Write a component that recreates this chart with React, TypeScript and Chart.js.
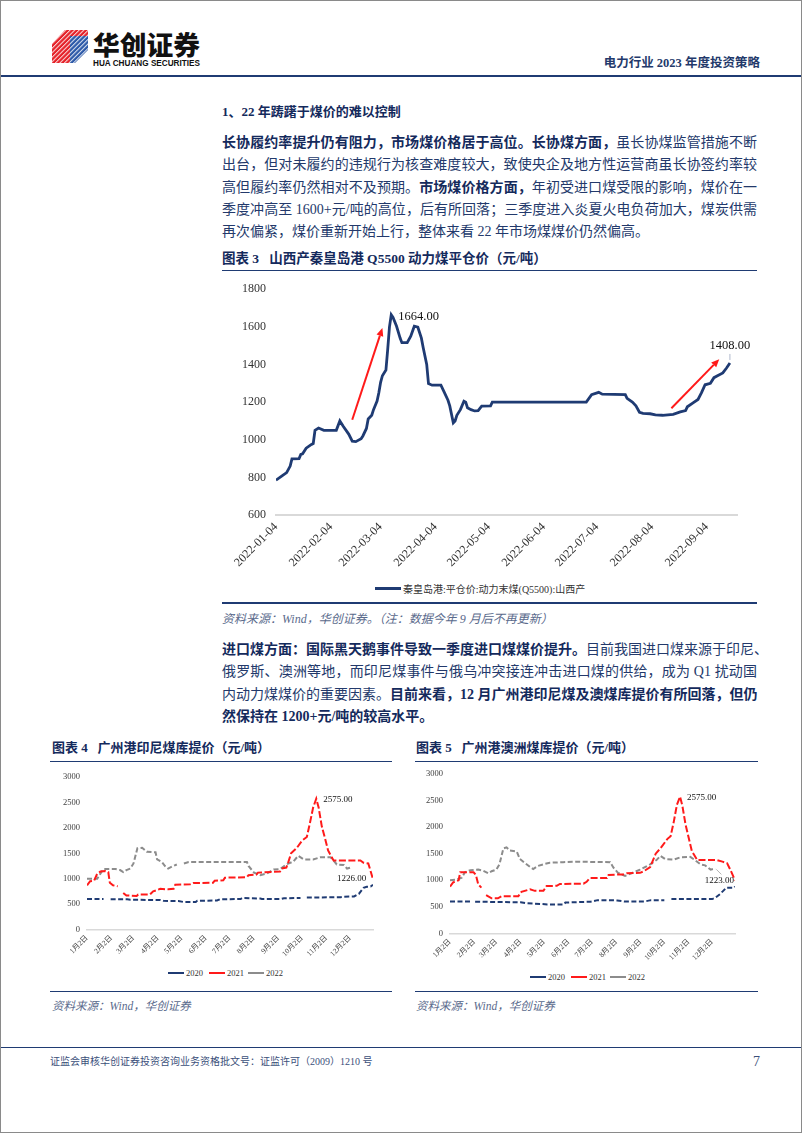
import React, { useEffect, useRef } from "react";
import { Chart, registerables } from "chart.js";
Chart.register(...registerables);

// ---------------- Figure 3: Qinhuangdao Q5500 (Shanxi) ----------------
const qhdDates = [
  "2022-01-04","2022-01-07","2022-01-10","2022-01-12","2022-01-13","2022-01-17","2022-01-18","2022-01-19",
  "2022-01-21","2022-01-24","2022-01-25","2022-01-26","2022-01-28","2022-01-31","2022-02-07","2022-02-09",
  "2022-02-11","2022-02-14","2022-02-16","2022-02-18","2022-02-21","2022-02-22","2022-02-24","2022-02-25",
  "2022-02-27","2022-02-28","2022-03-02","2022-03-03","2022-03-04","2022-03-05","2022-03-07","2022-03-08",
  "2022-03-09","2022-03-10","2022-03-11","2022-03-13","2022-03-15","2022-03-16","2022-03-19","2022-03-21",
  "2022-03-23","2022-03-25","2022-03-27","2022-03-28","2022-03-30","2022-03-31","2022-04-02","2022-04-07",
  "2022-04-09","2022-04-11","2022-04-12","2022-04-14","2022-04-15","2022-04-16","2022-04-18","2022-04-20",
  "2022-04-21","2022-04-22","2022-04-24","2022-04-26","2022-04-28","2022-04-30","2022-05-05","2022-05-06",
  "2022-06-28","2022-07-01","2022-07-05","2022-07-07","2022-07-20","2022-07-21","2022-07-24","2022-07-26",
  "2022-07-28","2022-07-30","2022-08-03","2022-08-06","2022-08-10","2022-08-16","2022-08-20","2022-08-23",
  "2022-08-24","2022-08-27","2022-08-30","2022-09-01","2022-09-03","2022-09-06","2022-09-08","2022-09-10",
  "2022-09-13","2022-09-15","2022-09-17",
];
const qhdPrices = [
  785, 805, 825, 860, 898, 900, 922, 925,
  955, 975, 980, 1050, 1062, 1050, 1050, 1100,
  1070, 1030, 992, 990, 1005, 1020, 1060, 1110,
  1130, 1160, 1205, 1250, 1305, 1340, 1370, 1480,
  1600, 1664, 1650, 1603, 1540, 1516, 1516, 1550,
  1603, 1598, 1540, 1490, 1400, 1298, 1290, 1290,
  1250, 1210, 1180, 1090, 1100, 1130, 1160, 1205,
  1200, 1170, 1160, 1153, 1155, 1179, 1180, 1200,
  1200, 1240, 1252, 1242, 1240, 1220, 1200, 1180,
  1146, 1140, 1138, 1132, 1130, 1135, 1148, 1155,
  1175, 1195, 1214, 1250, 1292, 1300, 1330, 1340,
  1355, 1380, 1408,
];
const qhdTickDates = [
  "2022-01-04","2022-02-04","2022-03-04","2022-04-04","2022-05-04",
  "2022-06-04","2022-07-04","2022-08-04","2022-09-04",
];
const qhdAxisStart = "2022-01-04";
const qhdAxisEnd = "2022-09-21";
const qhdYMin = 600;
const qhdYMax = 1800;
const qhdYStep = 200;
const qhdLegend = "秦皇岛港:平仓价:动力末煤(Q5500):山西产";
// red trend arrows: [fromDate, fromValue, toDate, toValue]
const qhdArrows: [string, number, string, number][] = [
  ["2022-02-16", 1106, "2022-03-05", 1594],
  ["2022-08-15", 1167, "2022-09-11", 1428],
];
const qhdPeakDate = "2022-03-10";
const qhdPeakValue = 1664;
const qhdLastDate = "2022-09-17";
const qhdLastValue = 1408;

// ---------------- Figure 4: Guangzhou port Indonesian coal ----------------
const portTickDates = ["01-02","02-02","03-02","04-02","05-02","06-02","07-02","08-02","09-02","10-02","11-02","12-02"];
const portTickLabels = ["1月2日","2月2日","3月2日","4月2日","5月2日","6月2日","7月2日","8月2日","9月2日","10月2日","11月2日","12月2日"];
const portAxisStart = "01-02";
const portAxisEnd = "12-31";
const portYMin = 0;
const portYMax = 3000;
const portYStep = 500;
const seriesNames = ["2020", "2021", "2022"];

const idn2020Dates = ["01-02","01-23","01-27","02-01","02-22","02-26","04-05","04-09","04-28","05-05","05-20","05-22","06-16","06-20","07-16","07-18","08-10","08-12","09-05","09-09","09-30","10-04","10-08","11-20","11-24","12-07","12-13","12-16","12-19","12-23","12-28","12-31"];
const idn2020 = [600,598,null,595,595,585,580,565,560,540,540,565,570,595,600,620,610,600,600,615,620,null,630,635,645,650,700,760,820,840,845,880];
const idn2021Dates = ["01-02","01-06","01-11","01-15","01-19","01-25","01-29","01-31","02-04","02-10","02-14","02-17","02-21","03-06","03-08","03-23","03-27","04-05","04-15","04-22","04-24","05-13","05-17","06-11","06-13","06-24","06-26","07-24","07-26","08-05","08-07","09-04","09-06","09-12","09-14","09-18","09-25","10-02","10-08","10-12","10-16","10-20","10-23","10-27","10-31","11-04","11-09","11-11","12-15","12-19","12-25","12-27","12-31"];
const idn2021 = [870,950,960,1100,1140,1150,1130,920,870,850,null,720,670,660,690,690,750,800,790,800,880,890,915,920,960,970,1020,1030,1070,1080,1120,1140,1200,1220,1300,1500,1600,1750,1820,2100,2400,2575,2400,2030,1800,1555,1410,1360,1360,1315,1300,1200,990];
const idn2022Dates = ["01-02","01-15","01-19","01-23","02-07","02-13","02-17","02-21","02-26","03-02","03-07","03-13","03-19","03-30","04-01","04-07","04-11","04-15","04-20","04-26","05-01","05-05","05-11","07-24","07-26","08-02","08-10","08-18","08-27","09-04","09-12","09-21","09-27","10-04","10-16","10-25","11-07","11-11","11-15","11-24","11-28","12-04"];
const idn2022 = [1000,1000,1100,1190,1190,1170,1130,1170,1200,1300,1600,1610,1530,1520,1380,1330,1250,1200,1240,1280,null,1300,1330,1330,1250,1120,1070,1100,1180,1190,1280,1340,1450,1380,1380,1420,1420,1360,1280,1270,1200,1226];
const idnPeak: [string, number] = ["10-20", 2575];
const idnLast: [string, number] = ["12-04", 1226];

// ---------------- Figure 5: Guangzhou port Australian coal ----------------
const aus2020Dates = ["01-02","01-30","01-31","02-03","04-02","04-08","05-06","05-27","05-29","06-30","07-09","08-03","08-12","09-07","09-15","10-02","10-05","10-11","12-02","12-06","12-12","12-16","12-20","12-30","12-31"];
const aus2020 = [600,598,null,595,585,570,545,545,580,595,625,620,600,600,625,625,null,645,645,670,740,800,860,860,880];
const aus2021Dates = ["01-02","01-06","01-13","01-15","02-01","02-04","02-07","02-11","02-14","02-17","02-24","03-04","03-09","03-30","04-03","04-14","04-20","05-01","05-05","05-18","05-22","06-21","06-25","06-29","07-21","07-23","08-11","08-15","09-01","09-06","09-14","09-21","09-27","10-06","10-10","10-14","10-18","10-22","10-25","10-29","11-02","11-06","11-13","12-08","12-15","12-21","12-25","12-31"];
const aus2021 = [880,960,1000,1150,1150,1100,920,860,null,720,660,660,700,700,780,830,800,800,890,895,930,935,970,1040,1040,1100,1110,1130,1140,1170,1250,1500,1600,1780,1830,2100,2420,2575,2400,2050,1800,1550,1380,1380,1350,1320,1200,1000];
const aus2022Dates = ["01-02","01-10","01-17","01-21","01-28","02-07","02-13","02-20","02-24","03-02","03-06","03-11","03-15","03-19","03-28","04-01","04-07","04-14","04-18","04-24","05-01","05-09","05-26","06-12","07-25","07-29","08-04","08-13","08-21","09-01","09-14","09-22","09-27","10-03","10-14","10-22","11-04","11-10","11-17","11-23","11-30","12-06"];
const aus2022 = [1000,1010,1050,1150,1190,1200,1180,1130,1170,1200,1300,1600,1620,1560,1540,1400,1330,1250,1210,1270,1300,1330,1340,1350,1340,1240,1140,1080,1130,1200,1300,1380,1460,1400,1390,1430,1440,1380,1300,1280,1200,1223];
const ausPeak: [string, number] = ["10-22", 2575];
const ausLast: [string, number] = ["12-06", 1223];

// ---------------- styling ----------------
const NAVY = "#1f3b73";
const TEXT = "#23396b";
const BOLD = "#142a5c";
const RED = "#ff1a1a";
const GRAY = "#8c8c8c";
const SERIF = '"Liberation Serif", "Times New Roman", "Noto Sans CJK SC", serif';
const CJK = '"Liberation Serif", "Noto Sans CJK SC", serif';

function utc(s: string) {
  const [y, m, d] = s.split("-").map(Number);
  return Date.UTC(y, m - 1, d);
}
function dayIdx(date: string, base: string) {
  return Math.round((utc(date) - utc(base)) / 86400000);
}
function portDay(md: string) {
  return dayIdx("2021-" + md, "2021-" + portAxisStart);
}

function drawArrow(ctx: CanvasRenderingContext2D, x0: number, y0: number, x1: number, y1: number) {
  const head = 8;
  const ang = Math.atan2(y1 - y0, x1 - x0);
  const bx = x1 - head * Math.cos(ang);
  const by = y1 - head * Math.sin(ang);
  ctx.save();
  ctx.strokeStyle = RED;
  ctx.fillStyle = RED;
  ctx.lineWidth = 2;
  ctx.beginPath();
  ctx.moveTo(x0, y0);
  ctx.lineTo(bx, by);
  ctx.stroke();
  ctx.beginPath();
  ctx.moveTo(x1, y1);
  ctx.lineTo(bx + 3.5 * Math.sin(ang), by - 3.5 * Math.cos(ang));
  ctx.lineTo(bx - 3.5 * Math.sin(ang), by + 3.5 * Math.cos(ang));
  ctx.closePath();
  ctx.fill();
  ctx.restore();
}

function QhdChart() {
  const ref = useRef<HTMLCanvasElement>(null);
  useEffect(() => {
    const pts = qhdDates.map((d, i) => ({ x: dayIdx(d, qhdAxisStart), y: qhdPrices[i] }));
    const tickVals = qhdTickDates.map((d) => dayIdx(d, qhdAxisStart));
    const annot = {
      id: "qhdAnnot",
      afterDatasetsDraw(chart: any) {
        const { ctx, scales } = chart;
        const X = (d: string) => scales.x.getPixelForValue(dayIdx(d, qhdAxisStart));
        const Y = (v: number) => scales.y.getPixelForValue(v);
        qhdArrows.forEach(([d0, v0, d1, v1]) => drawArrow(ctx, X(d0), Y(v0), X(d1), Y(v1)));
        ctx.save();
        ctx.fillStyle = "#111";
        ctx.font = `12.5px ${SERIF}`;
        ctx.textBaseline = "middle";
        ctx.textAlign = "left";
        ctx.fillText(qhdPeakValue.toFixed(2), X(qhdPeakDate) + 7, Y(qhdPeakValue) + 2);
        const lx = X(qhdLastDate), ly = Y(qhdLastValue);
        ctx.textAlign = "center";
        ctx.fillText(qhdLastValue.toFixed(2), lx, ly - 17);
        ctx.strokeStyle = "#9aa6c0";
        ctx.lineWidth = 0.8;
        ctx.beginPath();
        ctx.moveTo(lx, ly - 9);
        ctx.lineTo(lx, ly - 3);
        ctx.stroke();
        ctx.restore();
      },
    };
    const chart = new Chart(ref.current!, {
      type: "line",
      data: {
        datasets: [{ data: pts, borderColor: NAVY, borderWidth: 2.8, pointRadius: 0, tension: 0, fill: false }],
      },
      options: {
        animation: false,
        responsive: false,
        layout: { padding: { top: 13, right: 20, left: 0, bottom: 0 } },
        plugins: { legend: { display: false }, tooltip: { enabled: false } },
        scales: {
          x: {
            type: "linear",
            min: 0,
            max: dayIdx(qhdAxisEnd, qhdAxisStart),
            afterBuildTicks: (s: any) => {
              s.ticks = tickVals.map((v) => ({ value: v }));
            },
            afterFit: (s: any) => {
              s.height = 57;
            },
            grid: { display: false, drawTicks: false },
            border: { display: true, color: "#d9d9d9", width: 2 },
            ticks: {
              autoSkip: false,
              minRotation: 45,
              maxRotation: 45,
              padding: 5,
              color: "#333",
              font: { family: SERIF, size: 12 },
              callback: (v: any) => {
                const i = tickVals.indexOf(Number(v));
                return i >= 0 ? qhdTickDates[i] : "";
              },
            },
          },
          y: {
            min: qhdYMin,
            max: qhdYMax,
            afterFit: (s: any) => {
              s.width = 54;
            },
            grid: { display: false, drawTicks: false },
            border: { display: false },
            ticks: {
              stepSize: qhdYStep,
              padding: 10,
              color: "#333",
              font: { family: SERIF, size: 12 },
              callback: (v: any) => String(v),
            },
          },
        },
      } as any,
      plugins: [annot],
    });
    return () => chart.destroy();
  }, []);
  return (
    <canvas
      ref={ref}
      width={535}
      height={300}
      style={{ position: "absolute", left: 222, top: 272, width: 535, height: 300 }}
    />
  );
}

type PortSeries = { dates: string[]; values: (number | null)[]; color: string; dash: number[] };

function PortChart(props: {
  left: number;
  top: number;
  width: number;
  height: number;
  padTop: number;
  padRight: number;
  yWidth: number;
  xHeight: number;
  series: PortSeries[];
  peak: [string, number];
  last: [string, number];
  leader: boolean;
}) {
  const ref = useRef<HTMLCanvasElement>(null);
  useEffect(() => {
    const tickVals = portTickDates.map(portDay);
    const annot = {
      id: "portAnnot",
      afterDatasetsDraw(chart: any) {
        const { ctx, scales } = chart;
        const X = (d: string) => scales.x.getPixelForValue(portDay(d));
        const Y = (v: number) => scales.y.getPixelForValue(v);
        ctx.save();
        ctx.fillStyle = "#111";
        ctx.font = `9px ${SERIF}`;
        ctx.textBaseline = "middle";
        ctx.textAlign = "left";
        ctx.fillText(props.peak[1].toFixed(2), X(props.peak[0]) + 7, Y(props.peak[1]) + 1);
        const lx = X(props.last[0]), ly = Y(props.last[1]);
        ctx.textAlign = "center";
        if (props.leader) {
          ctx.strokeStyle = "#a0a0a0";
          ctx.lineWidth = 0.8;
          ctx.beginPath();
          ctx.moveTo(lx + 1, ly + 1);
          ctx.lineTo(lx + 6, ly + 6);
          ctx.stroke();
          ctx.fillText(props.last[1].toFixed(2), lx + 4, ly + 12);
        } else {
          ctx.fillText(props.last[1].toFixed(2), lx, ly + 11);
        }
        ctx.restore();
      },
    };
    const chart = new Chart(ref.current!, {
      type: "line",
      data: {
        datasets: props.series.map((s, k) => ({
          label: seriesNames[k],
          data: s.dates.map((d, i) => ({ x: portDay(d), y: s.values[i] })),
          borderColor: s.color,
          borderWidth: 2,
          borderDash: s.dash,
          pointRadius: 0,
          tension: 0,
          fill: false,
          spanGaps: false,
        })),
      },
      options: {
        animation: false,
        responsive: false,
        layout: { padding: { top: props.padTop, right: props.padRight, left: 0, bottom: 0 } },
        plugins: { legend: { display: false }, tooltip: { enabled: false } },
        scales: {
          x: {
            type: "linear",
            min: 0,
            max: portDay(portAxisEnd),
            afterBuildTicks: (s: any) => {
              s.ticks = tickVals.map((v) => ({ value: v }));
            },
            afterFit: (s: any) => {
              s.height = props.xHeight;
            },
            grid: { display: false, drawTicks: false },
            border: { display: true, color: "#d9d9d9", width: 1.5 },
            ticks: {
              autoSkip: false,
              minRotation: 45,
              maxRotation: 45,
              padding: 4,
              color: "#404040",
              font: { family: CJK, size: 7.5 },
              callback: (v: any) => {
                const i = tickVals.indexOf(Number(v));
                return i >= 0 ? portTickLabels[i] : "";
              },
            },
          },
          y: {
            min: portYMin,
            max: portYMax,
            afterFit: (s: any) => {
              s.width = props.yWidth;
            },
            grid: { display: false, drawTicks: false },
            border: { display: false },
            ticks: {
              stepSize: portYStep,
              padding: 7,
              color: "#404040",
              font: { family: SERIF, size: 8.5 },
              callback: (v: any) => String(v),
            },
          },
        },
      } as any,
      plugins: [annot],
    });
    return () => chart.destroy();
  }, []);
  return (
    <canvas
      ref={ref}
      width={props.width}
      height={props.height}
      style={{ position: "absolute", left: props.left, top: props.top, width: props.width, height: props.height }}
    />
  );
}

function T(props: { x: number; cy: number; size: number; children: any; bold?: boolean; italic?: boolean; color?: string; w?: number; justify?: boolean; right?: boolean; family?: string }) {
  const lh = 24;
  const style: any = {
    position: "absolute",
    top: props.cy - lh / 2,
    height: lh,
    lineHeight: lh + "px",
    fontSize: props.size,
    fontWeight: props.bold ? 700 : 400,
    fontStyle: props.italic ? "italic" : "normal",
    color: props.color || TEXT,
    whiteSpace: "nowrap",
    fontFamily: props.family || CJK,
  };
  if (props.right) {
    style.right = 802 - props.x;
    style.textAlign = "right";
  } else {
    style.left = props.x;
  }
  if (props.w) style.width = props.w;
  if (props.justify) {
    style.textAlign = "justify";
    style.textAlignLast = "justify";
  }
  return (
    <div lang="zh-CN" style={style}>
      {props.children}
    </div>
  );
}

function Rule(props: { x: number; y: number; w: number; h?: number; color?: string }) {
  return (
    <div
      style={{
        position: "absolute",
        left: props.x,
        top: props.y,
        width: props.w,
        height: props.h || 1.5,
        background: props.color || NAVY,
      }}
    />
  );
}

function LegendItem(props: { x: number; cy: number; color: string; label: string; lineW: number; size: number; thick: number }) {
  return (
    <div style={{ position: "absolute", left: props.x, top: props.cy - 8, height: 16, display: "flex", alignItems: "center" }}>
      <div style={{ width: props.lineW, height: props.thick, background: props.color }} />
      <span style={{ fontFamily: CJK, fontSize: props.size, color: "#333", marginLeft: 2, whiteSpace: "nowrap" }}>{props.label}</span>
    </div>
  );
}

function Logo() {
  return (
    <svg style={{ position: "absolute", left: 0, top: 0 }} width={220} height={72}>
      <defs>
        <pattern id="stripes" patternUnits="userSpaceOnUse" width="3.2" height="3.2" patternTransform="rotate(45)">
          <rect x="0" y="0" width="1" height="3.2" fill="#ffffff" />
        </pattern>
      </defs>
      <polygon points="52,44 65,30 88,30 88,36 70,36 70,63 52,63" fill="#e52229" />
      <polygon points="70,36 88,36 88,50 75,63 70,63" fill="#2c59a8" />
      <polygon points="52,44 65,30 88,30 88,50 75,63 52,63" fill="url(#stripes)" opacity="0.85" />
      <text x="93" y="55" fontFamily='"Noto Sans CJK SC", sans-serif' fontWeight="900" fontSize="26" textLength="107" lengthAdjust="spacingAndGlyphs" fill="#111">
        华创证券
      </text>
      <text x="93" y="65.5" fontFamily='"Liberation Sans", "Roboto", sans-serif' fontWeight="700" fontSize="8.5" textLength="107" lengthAdjust="spacingAndGlyphs" fill="#111">
        HUA CHUANG SECURITIES
      </text>
    </svg>
  );
}

export default function App() {
  const P1 = [143, 165.3, 187.6, 209.9, 232.2];
  const P2 = [650, 672.3, 694.6, 716.9];
  const B = (s: string) => <b style={{ color: BOLD }}>{s}</b>;
  return (
    <div style={{ position: "absolute", left: 0, top: 0, width: 802, height: 1133, background: "#fff", overflow: "hidden" }}>
      <Logo />
      <T x={760} cy={63} size={12.5} bold right>电力行业 2023 年度投资策略</T>
      <Rule x={0} y={75} w={802} h={2.2} />

      <T x={222} cy={112} size={13} bold color={BOLD}>1、22 年踌躇于煤价的难以控制</T>

      <T x={222} cy={P1[0]} size={14} w={535} justify>
        {B("长协履约率提升仍有阻力，市场煤价格居于高位。长协煤方面，")}虽长协煤监管措施不断
      </T>
      <T x={222} cy={P1[1]} size={14} w={535} justify>
        出台，但对未履约的违规行为核查难度较大，致使央企及地方性运营商虽长协签约率较
      </T>
      <T x={222} cy={P1[2]} size={14} w={535} justify>
        高但履约率仍然相对不及预期。{B("市场煤价格方面，")}年初受进口煤受限的影响，煤价在一
      </T>
      <T x={222} cy={P1[3]} size={14} w={535} justify>
        季度冲高至 1600+元/吨的高位，后有所回落；三季度进入炎夏火电负荷加大，煤炭供需
      </T>
      <T x={222} cy={P1[4]} size={14}>
        再次偏紧，煤价重新开始上行，整体来看 22 年市场煤煤价仍然偏高。
      </T>

      <T x={222} cy={259} size={13.5} bold color={BOLD}>图表 3&nbsp;&nbsp;&nbsp;山西产秦皇岛港 Q5500 动力煤平仓价（元/吨）</T>
      <Rule x={222} y={269.5} w={535} h={1.8} />
      <QhdChart />
      <LegendItem x={375} cy={588} color={NAVY} label={qhdLegend} lineW={26} size={10} thick={3} />
      <Rule x={222} y={602} w={535} h={1.8} />
      <T x={222} cy={619} size={12} italic color="#5a6a8c">资料来源：Wind，华创证券。（注：数据今年 9 月后不再更新）</T>

      <T x={222} cy={P2[0]} size={14} w={535} justify>
        {B("进口煤方面：国际黑天鹅事件导致一季度进口煤煤价提升。")}目前我国进口煤来源于印尼、
      </T>
      <T x={222} cy={P2[1]} size={14} w={535} justify>
        俄罗斯、澳洲等地，而印尼煤事件与俄乌冲突接连冲击进口煤的供给，成为 Q1 扰动国
      </T>
      <T x={222} cy={P2[2]} size={14} w={535} justify>
        内动力煤煤价的重要因素。{B("目前来看，12 月广州港印尼煤及澳煤库提价有所回落，但仍")}
      </T>
      <T x={222} cy={P2[3]} size={14}>
        {B("然保持在 1200+元/吨的较高水平。")}
      </T>

      <T x={52} cy={748} size={13} bold color={BOLD}>图表 4&nbsp;&nbsp;&nbsp;广州港印尼煤库提价（元/吨）</T>
      <Rule x={50} y={760.5} w={342} h={1.8} />
      <PortChart
        left={40}
        top={765}
        width={350}
        height={200}
        padTop={10}
        padRight={17}
        yWidth={47}
        xHeight={35.5}
        series={[
          { dates: idn2020Dates, values: idn2020, color: NAVY, dash: [5, 2.5] },
          { dates: idn2021Dates, values: idn2021, color: RED, dash: [7, 2.5] },
          { dates: idn2022Dates, values: idn2022, color: GRAY, dash: [5, 2.5] },
        ]}
        peak={idnPeak}
        last={idnLast}
        leader={false}
      />
      <LegendItem x={168} cy={973} color={NAVY} label={seriesNames[0]} lineW={16} size={8.5} thick={2.5} />
      <LegendItem x={209} cy={973} color={RED} label={seriesNames[1]} lineW={16} size={8.5} thick={2.5} />
      <LegendItem x={248} cy={973} color={GRAY} label={seriesNames[2]} lineW={16} size={8.5} thick={2.5} />
      <Rule x={50} y={990.5} w={342} h={1.8} />
      <T x={52} cy={1006} size={11.5} italic color="#5a6a8c">资料来源：Wind，华创证券</T>

      <T x={416} cy={748} size={13} bold color={BOLD}>图表 5&nbsp;&nbsp;&nbsp;广州港澳洲煤库提价（元/吨）</T>
      <Rule x={415} y={760.5} w={343} h={1.8} />
      <PortChart
        left={405}
        top={762}
        width={350}
        height={205}
        padTop={9.7}
        padRight={20}
        yWidth={45}
        xHeight={33.7}
        series={[
          { dates: aus2020Dates, values: aus2020, color: NAVY, dash: [5, 2.5] },
          { dates: aus2021Dates, values: aus2021, color: RED, dash: [7, 2.5] },
          { dates: aus2022Dates, values: aus2022, color: GRAY, dash: [5, 2.5] },
        ]}
        peak={ausPeak}
        last={ausLast}
        leader={true}
      />
      <LegendItem x={530} cy={977} color={NAVY} label={seriesNames[0]} lineW={16} size={8.5} thick={2.5} />
      <LegendItem x={571} cy={977} color={RED} label={seriesNames[1]} lineW={16} size={8.5} thick={2.5} />
      <LegendItem x={610} cy={977} color={GRAY} label={seriesNames[2]} lineW={16} size={8.5} thick={2.5} />
      <Rule x={415} y={990.5} w={343} h={1.8} />
      <T x={416} cy={1006} size={11.5} italic color="#5a6a8c">资料来源：Wind，华创证券</T>

      <Rule x={0} y={1046.5} w={802} h={1.8} />
      <T x={50} cy={1062} size={10} color="#3b4f7a">证监会审核华创证券投资咨询业务资格批文号：证监许可（2009）1210 号</T>
      <T x={760} cy={1062} size={14} right color="#3b4f7a" family={SERIF}>7</T>

      <div style={{ position: "absolute", left: 0, top: 0, width: 802, height: 1133, border: "1px solid #8a8a8a", boxSizing: "border-box", pointerEvents: "none" }} />
    </div>
  );
}
